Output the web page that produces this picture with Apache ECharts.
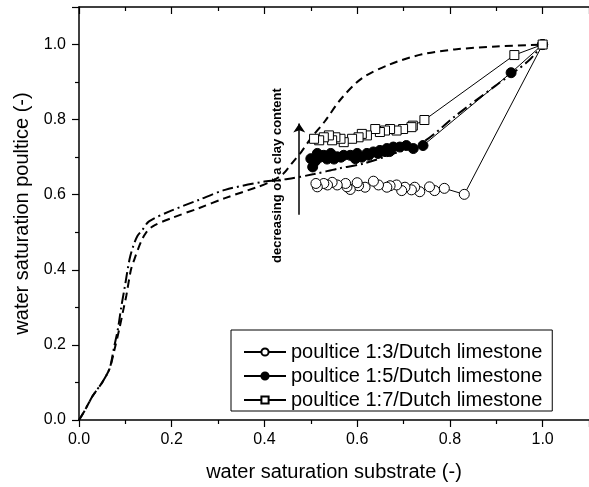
<!DOCTYPE html>
<html>
<head>
<meta charset="utf-8">
<script src="https://cdn.jsdelivr.net/npm/echarts@6/dist/echarts.min.js"></script>
<style>
    html, body { margin: 0; padding: 0; background: #fff; }
    #chart { width: 589px; height: 487px; }
</style>
</head>
<body>
<div id="chart"></div>
<script>
// 数据: [water saturation substrate, water saturation poultice]
var dashedCurve = [[0, 0], [0.01, 0.02], [0.03, 0.065], [0.05, 0.1], [0.066, 0.137], [0.077, 0.19],
    [0.087, 0.243], [0.095, 0.29], [0.102, 0.331], [0.112, 0.40], [0.12, 0.43], [0.127, 0.454],
    [0.135, 0.478], [0.144, 0.498], [0.159, 0.516], [0.2, 0.538], [0.258, 0.564], [0.315, 0.591], [0.386, 0.621],
    [0.414, 0.635], [0.44, 0.655], [0.46, 0.685], [0.48, 0.715], [0.5, 0.75], [0.53, 0.795],
    [0.565, 0.855], [0.61, 0.91], [0.67, 0.947], [0.74, 0.974], [0.81, 0.987], [0.9, 0.995], [1.0, 1.0]];
var dashDotCurve = [[0, 0], [0.01, 0.02], [0.03, 0.065], [0.05, 0.1], [0.066, 0.137], [0.075, 0.19],
    [0.084, 0.243], [0.091, 0.3], [0.098, 0.349], [0.109, 0.428], [0.117, 0.463], [0.126, 0.49], [0.137, 0.507],
    [0.151, 0.529], [0.194, 0.555], [0.258, 0.586], [0.315, 0.613], [0.40, 0.635], [0.45, 0.642],
    [0.507, 0.655], [0.56, 0.67], [0.614, 0.683], [0.68, 0.71], [0.742, 0.740], [0.813, 0.811],
    [0.898, 0.890], [0.969, 0.956], [1.0, 1.0]];
var poultice13 = [[1.0, 1.0], [0.831, 0.601], [0.788, 0.617], [0.767, 0.611], [0.756, 0.621], [0.735, 0.608],
    [0.724, 0.620], [0.717, 0.613], [0.703, 0.620], [0.696, 0.611], [0.685, 0.626], [0.671, 0.624],
    [0.664, 0.620], [0.646, 0.626], [0.635, 0.636], [0.617, 0.620], [0.603, 0.624], [0.600, 0.632],
    [0.585, 0.614], [0.578, 0.621], [0.575, 0.630], [0.557, 0.626], [0.546, 0.633], [0.536, 0.626],
    [0.528, 0.630], [0.514, 0.621], [0.511, 0.630]];
var poultice15 = [[1.0, 1.0], [0.932, 0.925], [0.742, 0.731], [0.721, 0.723], [0.706, 0.731], [0.692, 0.727],
    [0.678, 0.727], [0.67, 0.715], [0.664, 0.723], [0.66, 0.715], [0.649, 0.718], [0.645, 0.71],
    [0.635, 0.714], [0.625, 0.705], [0.621, 0.710], [0.61, 0.70], [0.600, 0.710], [0.596, 0.696],
    [0.585, 0.705], [0.571, 0.705], [0.565, 0.70], [0.557, 0.701], [0.55, 0.695], [0.543, 0.710],
    [0.535, 0.695], [0.528, 0.705], [0.52, 0.70], [0.514, 0.710], [0.51, 0.69], [0.504, 0.674],
    [0.500, 0.696]];
var poultice17 = [[1.0, 1.0], [0.939, 0.972], [0.745, 0.799], [0.720, 0.784], [0.717, 0.780], [0.699, 0.775],
    [0.685, 0.771], [0.671, 0.775], [0.660, 0.771], [0.649, 0.767], [0.639, 0.775], [0.621, 0.758],
    [0.610, 0.762], [0.603, 0.753], [0.589, 0.749], [0.571, 0.740], [0.564, 0.749], [0.553, 0.753],
    [0.546, 0.745], [0.539, 0.758], [0.528, 0.753], [0.518, 0.745], [0.507, 0.749]];
var seriesNames = ['poultice 1:3/Dutch limestone', 'poultice 1:5/Dutch limestone', 'poultice 1:7/Dutch limestone'];
var tickLabels = ['0.0', '0.2', '0.4', '0.6', '0.8', '1.0'];
var arrowLine = [[0.475, 0.547], [0.475, 0.79]];
var noteText = 'decreasing of a clay content';
var notePos = [0.429, 0.651];

var font = 'Liberation Sans, Arial, sans-serif';

function tickFormatter(v) {
    var s = v.toFixed(1);
    return tickLabels.indexOf(s) >= 0 ? s : '';
}

function markerSeries(name, data, symbol, fill, size) {
    return {
        name: name,
        type: 'line',
        data: data,
        symbol: symbol,
        symbolSize: size,
        showSymbol: true,
        z: 5,
        lineStyle: { color: '#000', width: 1 },
        itemStyle: { color: fill, borderColor: '#000', borderWidth: 1 }
    };
}

var myChart = echarts.init(document.getElementById('chart'));
var axisLine = { show: true, lineStyle: { color: '#000', width: 1.5 } };
var option = {
    animation: false,
    backgroundColor: '#fff',
    grid: { left: 79, top: 7, width: 515.6, height: 415 },
    legend: {
        data: seriesNames,
        orient: 'vertical',
        left: 231,
        top: 330,
        padding: [12, 10, 1, 12],
        itemGap: 4,
        itemWidth: 42,
        itemHeight: 9,
        borderColor: '#000',
        borderWidth: 1,
        backgroundColor: '#fff',
        textStyle: { fontFamily: font, fontSize: 20, color: '#000' }
    },
    xAxis: [{
        type: 'value',
        min: 0, max: 1.1, interval: 0.2,
        name: 'water saturation substrate (-)',
        nameLocation: 'middle',
        nameGap: 42,
        nameTextStyle: { fontFamily: font, fontSize: 20, color: '#000' },
        axisLine: axisLine,
        axisTick: { show: true, length: 7, lineStyle: { color: '#000', width: 1.2 } },
        minorTick: { show: true, splitNumber: 2, length: 4, lineStyle: { color: '#000', width: 1.2 } },
        axisLabel: { formatter: tickFormatter, margin: 12, fontFamily: font, fontSize: 16, color: '#000', showMaxLabel: false },
        splitLine: { show: false }
    }, {
        type: 'value',
        position: 'top',
        min: 0, max: 1.1, interval: 0.2,
        axisLine: axisLine,
        axisTick: { show: true, inside: true, length: 7, lineStyle: { color: '#000', width: 1.2 } },
        minorTick: { show: true, splitNumber: 2, length: 4, lineStyle: { color: '#000', width: 1.2 } },
        axisLabel: { show: false },
        splitLine: { show: false }
    }],
    yAxis: {
        type: 'value',
        min: 0, max: 1.1, interval: 0.2,
        name: 'water saturation poultice (-)',
        nameLocation: 'middle',
        nameGap: 38,
        nameTextStyle: { fontFamily: font, fontSize: 20, color: '#000' },
        axisLine: axisLine,
        axisTick: { show: true, length: 7, lineStyle: { color: '#000', width: 1.2 } },
        minorTick: { show: true, splitNumber: 2, length: 4, lineStyle: { color: '#000', width: 1.2 } },
        axisLabel: { formatter: tickFormatter, margin: 13, fontFamily: font, fontSize: 16, color: '#000', showMaxLabel: false },
        splitLine: { show: false }
    },
    series: [{
        name: 'dashed',
        type: 'line',
        data: dashedCurve,
        symbol: 'none',
        smooth: 0.3,
        z: 3,
        lineStyle: { color: '#000', width: 2, type: [8, 5] }
    }, {
        name: 'dashdot',
        type: 'line',
        data: dashDotCurve,
        symbol: 'none',
        smooth: 0.3,
        z: 3,
        lineStyle: { color: '#000', width: 2, type: [11, 4, 2, 4] }
    },
        markerSeries(seriesNames[0], poultice13, 'circle', '#fff', 10),
        markerSeries(seriesNames[1], poultice15, 'circle', '#000', 10),
        markerSeries(seriesNames[2], poultice17, 'rect', '#fff', 9),
    {
        name: 'arrow',
        type: 'line',
        data: [],
        silent: true,
        markLine: {
            silent: true,
            symbol: ['none', 'arrow'],
            symbolSize: 9,
            label: { show: false },
            lineStyle: { color: '#000', width: 1.5, type: 'solid' },
            data: [[{ coord: arrowLine[0] }, { coord: arrowLine[1] }]]
        }
    }]
};
myChart.setOption(option);

// 注释文字
var p = myChart.convertToPixel({ xAxisIndex: 0, yAxisIndex: 0 }, notePos);
myChart.setOption({
    graphic: [{
        type: 'text',
        x: p[0],
        y: p[1],
        rotation: Math.PI / 2,
        style: {
            text: noteText,
            fontFamily: font,
            fontSize: 13,
            fontWeight: 'bold',
            fill: '#000',
            align: 'center',
            verticalAlign: 'middle'
        }
    }]
});
</script>
</body>
</html>
